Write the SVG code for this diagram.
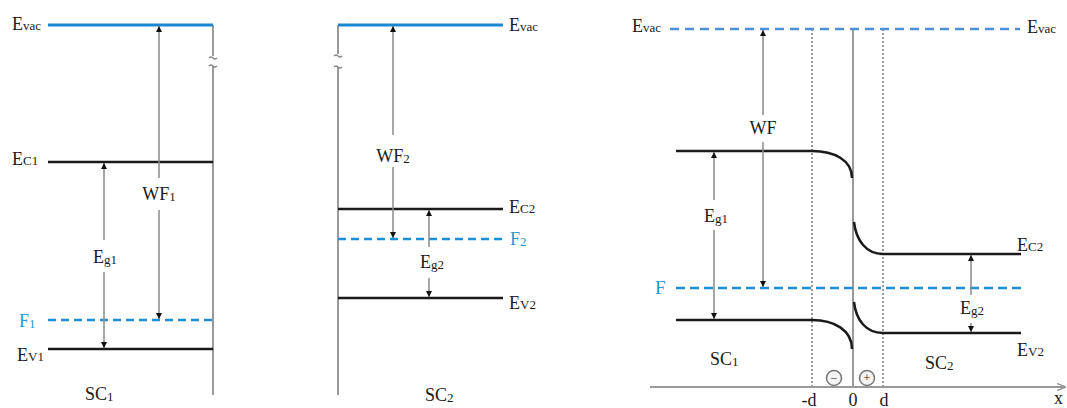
<svg xmlns="http://www.w3.org/2000/svg" width="1067" height="408" viewBox="0 0 1067 408">
<style>
text{font-family:"Liberation Serif","Times New Roman",serif;font-size:18px;fill:#1a1a1a}
.s{font-size:13px}
.blue{fill:#1e9ad6}
.lvl{stroke:#1a1a1a;stroke-width:2.5;fill:none}
.vac{stroke:#1b86d2;stroke-width:2.8;fill:none}
.fd{stroke:#1e8fd6;stroke-width:2.5;stroke-dasharray:8 5;fill:none}
.vd{stroke:#4d8fd8;stroke-width:2.5;stroke-dasharray:9 6;fill:none}
.ax{stroke:#9a9a9a;stroke-width:2;fill:none}
.dot{stroke:#999;stroke-width:2;stroke-dasharray:2 2;fill:none}
.arr{stroke:#8a8a8a;stroke-width:1.5;fill:none;marker-end:url(#ah)}
.chg{stroke:#777;stroke-width:1.5;fill:#f4f4f4}
</style>
<defs>
<marker id="ah" viewBox="0 0 10 10" refX="10" refY="5" markerWidth="6" markerHeight="6" markerUnits="userSpaceOnUse" orient="auto">
<path d="M0,0 L10,5 L0,10 z" fill="#111"/>
</marker>
<marker id="axh" viewBox="0 0 10 10" refX="10" refY="5" markerWidth="9" markerHeight="9" markerUnits="userSpaceOnUse" orient="auto">
<path d="M0,1 L10,5 L0,9" fill="none" stroke="#9a9a9a" stroke-width="1.5"/>
</marker>
</defs>

<g id="panel-sc1">
<g id="sc1-axis">
<path class="ax" d="M213,25 V56 M213,66 V395"/>
<path d="M209,58 q2,-2 4,0 t4,0 M209,66 q2,-2 4,0 t4,0" stroke="#888" stroke-width="1.2" fill="none"/>
</g>
<g id="sc1-evac"><line class="vac" x1="48" y1="25" x2="213" y2="25"/><text x="12" y="30">E<tspan class="s">vac</tspan></text></g>
<g id="sc1-ec"><line class="lvl" x1="48" y1="162" x2="213" y2="162"/><text x="12" y="165">E<tspan class="s">C1</tspan></text></g>
<g id="sc1-f"><line class="fd" x1="48" y1="320" x2="213" y2="320"/><text class="blue" x="19" y="327">F<tspan class="s" dy="1">1</tspan></text></g>
<g id="sc1-ev"><line class="lvl" x1="48" y1="349" x2="213" y2="349"/><text x="17" y="361">E<tspan class="s">V1</tspan></text></g>
<g id="sc1-labels">
<text x="159" y="200" text-anchor="middle">WF<tspan class="s" dy="1">1</tspan></text>
<text x="105" y="263" text-anchor="middle">E<tspan class="s" dy="1">g1</tspan></text>
<text x="85" y="400">SC<tspan class="s" dy="1">1</tspan></text>
</g>
</g>

<g id="panel-sc2">
<g id="sc2-axis">
<path class="ax" d="M338,25 V54 M338,67 V395"/>
<path d="M334,56 q2,-2 4,0 t4,0 M334,67 q2,-2 4,0 t4,0" stroke="#888" stroke-width="1.2" fill="none"/>
</g>
<g id="sc2-evac"><line class="vac" x1="338" y1="25" x2="503" y2="25"/><text x="509" y="31">E<tspan class="s">vac</tspan></text></g>
<g id="sc2-ec"><line class="lvl" x1="338" y1="209" x2="503" y2="209"/><text x="509" y="213">E<tspan class="s">C2</tspan></text></g>
<g id="sc2-f"><line class="fd" x1="338" y1="239" x2="503" y2="239"/><text class="blue" x="510" y="245">F<tspan class="s" dy="1">2</tspan></text></g>
<g id="sc2-ev"><line class="lvl" x1="338" y1="298" x2="503" y2="298"/><text x="509" y="309">E<tspan class="s">V2</tspan></text></g>
<g id="sc2-labels">
<text x="393" y="162" text-anchor="middle">WF<tspan class="s" dy="1">2</tspan></text>
<text x="432" y="268" text-anchor="middle">E<tspan class="s" dy="1">g2</tspan></text>
<text x="425" y="401">SC<tspan class="s" dy="1">2</tspan></text>
</g>
</g>

<g id="panel-junction">
<g id="j-axes">
<line class="ax" x1="650" y1="387" x2="1066" y2="387" marker-end="url(#axh)"/>
<line class="ax" x1="853" y1="29" x2="853" y2="387"/>
<line class="dot" x1="812" y1="29" x2="812" y2="387"/>
<line class="dot" x1="883" y1="29" x2="883" y2="387"/>
<text x="809" y="406" text-anchor="middle">-d</text>
<text x="853" y="406" text-anchor="middle">0</text>
<text x="884" y="406" text-anchor="middle">d</text>
<text x="1054" y="404">x</text>
</g>
<g id="j-evac"><line class="vd" x1="670" y1="29" x2="1020" y2="29"/>
<text x="632" y="32">E<tspan class="s">vac</tspan></text>
<text x="1027" y="33">E<tspan class="s">vac</tspan></text></g>
<g id="j-ec1"><path class="lvl" d="M676,151 H812 C834,151 852,160 852,178"/></g>
<g id="j-ev1"><path class="lvl" d="M676,320 H812 C834,320 852,330 852,349"/></g>
<g id="j-ec2"><path class="lvl" d="M854,222 C856,240 866,254 883,254 H1021"/><text x="1017" y="251">E<tspan class="s">C2</tspan></text></g>
<g id="j-ev2"><path class="lvl" d="M854,302 C856,320 866,333 883,333 H1021"/><text x="1017" y="356">E<tspan class="s">V2</tspan></text></g>
<g id="j-f"><line class="fd" x1="676" y1="288" x2="1021" y2="288" style="stroke-dasharray:9 5"/><text class="blue" x="655" y="294" style="font-size:19px">F</text></g>
<g id="j-charges">
<circle class="chg" cx="834" cy="378" r="7.5"/><text x="834" y="382" text-anchor="middle" style="font-size:12px">−</text>
<circle class="chg" cx="867" cy="378" r="7.5"/><text x="867" y="382" text-anchor="middle" style="font-size:12px">+</text>
</g>
<g id="j-labels">
<text x="763" y="134" text-anchor="middle">WF</text>
<text x="716" y="222" text-anchor="middle">E<tspan class="s" dy="1">g1</tspan></text>
<text x="972" y="314" text-anchor="middle">E<tspan class="s" dy="1">g2</tspan></text>
<text x="710" y="365">SC<tspan class="s" dy="1">1</tspan></text>
<text x="925" y="369">SC<tspan class="s" dy="1">2</tspan></text>
</g>
</g>

<g id="connectors">
<line class="arr" x1="159" y1="178" x2="159" y2="26"/>
<line class="arr" x1="159" y1="210" x2="159" y2="319"/>
<line class="arr" x1="104" y1="240" x2="104" y2="163"/>
<line class="arr" x1="104" y1="272" x2="104" y2="348"/>
<line class="arr" x1="393" y1="135" x2="393" y2="26"/>
<line class="arr" x1="393" y1="167" x2="393" y2="238"/>
<line class="arr" x1="429" y1="247" x2="429" y2="210"/>
<line class="arr" x1="429" y1="278" x2="429" y2="297"/>
<line class="arr" x1="763" y1="115" x2="763" y2="30"/>
<line class="arr" x1="763" y1="142" x2="763" y2="287"/>
<line class="arr" x1="714" y1="200" x2="714" y2="152"/>
<line class="arr" x1="714" y1="230" x2="714" y2="319"/>
<line class="arr" x1="971" y1="295" x2="971" y2="255"/>
<line class="arr" x1="971" y1="323" x2="971" y2="332"/>
</g>
</svg>
